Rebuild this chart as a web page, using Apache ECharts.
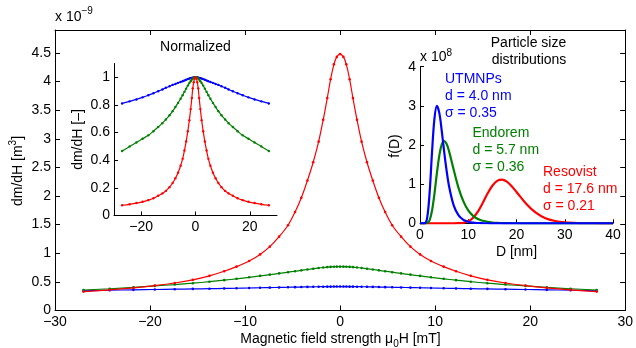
<!DOCTYPE html>
<html>
<head>
<meta charset="utf-8">
<script src="https://cdn.jsdelivr.net/npm/echarts@6/dist/echarts.min.js"></script>
<style>
  html, body { margin: 0; padding: 0; background: #fff; }
  #chart { width: 636px; height: 348px; }
</style>
</head>
<body>
<div id="chart"></div>
<script>
// field values [mT] at the measured points
const fieldH = [-27, -24.25, -21.75, -19.5, -17.4, -15.5, -13.75, -12.2, -10.9, -9.57, -8.42, -7.4, -6.42, -5.48, -4.74, -4.08, -3.44, -2.83, -2.26, -1.78, -1.35, -1, -0.65, -0.35, 0, 0.35, 0.65, 1, 1.35, 1.78, 2.26, 2.83, 3.44, 4.08, 4.74, 5.48, 6.42, 7.4, 8.42, 9.57, 10.9, 12.2, 13.75, 15.5, 17.4, 19.5, 21.75, 24.25, 27];

// dm/dH in units of 1e-9 m^3
const mainUtmnps = [0.343, 0.354, 0.361, 0.367, 0.372, 0.377, 0.381, 0.385, 0.389, 0.393, 0.397, 0.400, 0.403, 0.406, 0.408, 0.410, 0.412, 0.414, 0.415, 0.416, 0.417, 0.417, 0.418, 0.418, 0.418, 0.418, 0.418, 0.417, 0.417, 0.416, 0.415, 0.414, 0.412, 0.410, 0.408, 0.406, 0.403, 0.400, 0.397, 0.393, 0.389, 0.385, 0.381, 0.377, 0.372, 0.367, 0.361, 0.354, 0.343];
const mainEndorem = [0.358, 0.38, 0.404, 0.43, 0.453, 0.477, 0.503, 0.53, 0.554, 0.58, 0.604, 0.626, 0.648, 0.669, 0.686, 0.701, 0.716, 0.730, 0.742, 0.751, 0.758, 0.762, 0.765, 0.766, 0.766, 0.766, 0.765, 0.762, 0.758, 0.751, 0.742, 0.730, 0.716, 0.701, 0.686, 0.669, 0.648, 0.626, 0.604, 0.58, 0.554, 0.53, 0.503, 0.477, 0.453, 0.43, 0.404, 0.38, 0.358];
const mainResovist = [0.33, 0.36, 0.395, 0.435, 0.48, 0.535, 0.605, 0.685, 0.766, 0.865, 0.98, 1.115, 1.29, 1.49, 1.72, 1.97, 2.27, 2.59, 2.95, 3.33, 3.71, 4.04, 4.30, 4.43, 4.48, 4.43, 4.30, 4.04, 3.71, 3.33, 2.95, 2.59, 2.27, 1.97, 1.72, 1.49, 1.29, 1.115, 0.98, 0.865, 0.766, 0.685, 0.605, 0.535, 0.48, 0.435, 0.395, 0.36, 0.33];

// normalized dm/dH (inset)
const normUtmnps = [0.811, 0.826, 0.84, 0.855, 0.87, 0.885, 0.899, 0.912, 0.924, 0.935, 0.945, 0.952, 0.96, 0.966, 0.972, 0.977, 0.982, 0.987, 0.991, 0.994, 0.996, 0.998, 0.999, 1, 1, 1, 0.999, 0.998, 0.996, 0.994, 0.991, 0.987, 0.982, 0.977, 0.972, 0.966, 0.96, 0.952, 0.945, 0.935, 0.924, 0.912, 0.899, 0.885, 0.87, 0.855, 0.84, 0.826, 0.811];
const normEndorem = [0.467, 0.5, 0.528, 0.555, 0.58, 0.61, 0.64, 0.668, 0.695, 0.725, 0.755, 0.785, 0.815, 0.845, 0.87, 0.895, 0.918, 0.94, 0.958, 0.972, 0.984, 0.992, 0.998, 1, 1, 1, 0.998, 0.992, 0.984, 0.972, 0.958, 0.94, 0.918, 0.895, 0.87, 0.845, 0.815, 0.785, 0.755, 0.725, 0.695, 0.668, 0.64, 0.61, 0.58, 0.555, 0.528, 0.5, 0.467];
const normResovist = [0.074, 0.081, 0.09, 0.099, 0.111, 0.125, 0.143, 0.16, 0.178, 0.205, 0.235, 0.27, 0.31, 0.36, 0.41, 0.47, 0.535, 0.61, 0.69, 0.77, 0.85, 0.92, 0.965, 0.99, 1, 0.99, 0.965, 0.92, 0.85, 0.77, 0.69, 0.61, 0.535, 0.47, 0.41, 0.36, 0.31, 0.27, 0.235, 0.205, 0.178, 0.16, 0.143, 0.125, 0.111, 0.099, 0.09, 0.081, 0.074];

// particle size distributions, f(D) in units of 1e8
const sizeD = [0, 0.5, 1, 1.5, 2, 2.5, 3, 3.5, 4, 4.5, 5, 5.5, 6, 7, 8, 9, 10, 11, 12, 13, 14, 15, 16, 17, 18, 19, 20, 22, 24, 26, 28, 30, 33, 36, 40];
const distUtmnps = [0, 0, 0.004, 0.15, 0.79, 1.83, 2.68, 3.0, 2.82, 2.37, 1.84, 1.36, 0.96, 0.45, 0.2, 0.086, 0.037, 0.016, 0.007, 0.003, 0.001, 0, 0, 0, 0, 0, 0, 0, 0, 0, 0, 0, 0, 0, 0];
const distEndorem = [0, 0, 0, 0.008, 0.08, 0.33, 0.76, 1.28, 1.73, 2.01, 2.1, 2.03, 1.85, 1.36, 0.9, 0.56, 0.33, 0.19, 0.11, 0.065, 0.036, 0.02, 0.011, 0.007, 0.004, 0.002, 0.001, 0, 0, 0, 0, 0, 0, 0, 0];
const distResovist = [0, 0, 0, 0, 0, 0, 0, 0, 0, 0, 0, 0, 0, 0, 0.002, 0.012, 0.05, 0.143, 0.30, 0.52, 0.76, 0.96, 1.085, 1.116, 1.063, 0.948, 0.80, 0.50, 0.27, 0.13, 0.06, 0.025, 0.007, 0.001, 0];

const mainYTicks = [0, 0.5, 1, 1.5, 2, 2.5, 3, 3.5, 4, 4.5];
const normXTicks = [-20, 0, 20];
const normYTicks = [0, 0.2, 0.4, 0.6, 0.8, 1];

const BLUE = "#0000ff", GREEN = "#008000", RED = "#ff0000";
const FONT = '"Liberation Sans", Arial, sans-serif';

const minus = (v) => (v < 0 ? "\u2212" + -v : String(v));

function axis(gridIndex, extra = {}, { labels = true, tickLen = 5 } = {}) {
  return {
    type: "value",
    gridIndex,
    axisLine: { show: true, onZero: false, lineStyle: { color: "#000", width: 1 } },
    axisTick: { show: true, inside: true, length: tickLen, lineStyle: { color: "#000" } },
    axisLabel: { show: labels, color: "#000", fontSize: 14, fontFamily: FONT, margin: 5, formatter: minus },
    splitLine: { show: false },
    ...extra,
  };
}

function pairs(xs, ys) {
  return xs.map((x, i) => [x, ys[i]]);
}

function curve(name, color, xs, ys, xi, yi, opts = {}) {
  return {
    name,
    type: "line",
    xAxisIndex: xi,
    yAxisIndex: yi,
    data: pairs(xs, ys),
    smooth: 0.35,
    symbol: "circle",
    symbolSize: 2.6,
    showSymbol: true,
    itemStyle: { color },
    lineStyle: { color, width: 1.2 },
    animation: false,
    silent: true,
    ...opts,
  };
}

function text(x, y, str, style = {}, extra = {}) {
  return {
    type: "text",
    x, y,
    silent: true,
    style: { text: str, fill: "#000", fontSize: 14, fontFamily: FONT, align: "left", verticalAlign: "middle", ...style },
    ...extra,
  };
}

const supRich = { sup: { fontSize: 10, fontFamily: FONT, verticalAlign: "top", lineHeight: 9 } };

const option = {
  animation: false,
  grid: [
    { left: 55, top: 30, width: 571, height: 280.5 },
    { left: 114, top: 63.5, width: 163, height: 152 },
    { left: 420, top: 66.7, width: 193, height: 156.6 },
  ],
  xAxis: [
    axis(0, { min: -30, max: 30, interval: 10 }),
    axis(0, { min: -30, max: 30, interval: 10, position: "top" }, { labels: false }),
    axis(1, { min: -30, max: 30, axisLabel: { color: "#000", fontSize: 14, fontFamily: FONT, margin: 5, formatter: minus, customValues: normXTicks }, axisTick: { show: true, inside: true, length: 4, lineStyle: { color: "#000" }, customValues: normXTicks } }),
    axis(2, { min: 0, max: 40, interval: 10 }, { tickLen: 4 }),
  ],
  yAxis: [
    axis(0, { min: 0, max: 4.9, axisLabel: { color: "#000", fontSize: 14, fontFamily: FONT, margin: 4, customValues: mainYTicks }, axisTick: { show: true, inside: true, length: 5, lineStyle: { color: "#000" }, customValues: mainYTicks } }),
    axis(0, { min: 0, max: 4.9, position: "right", axisLabel: { show: false }, axisTick: { show: true, inside: true, length: 5, lineStyle: { color: "#000" }, customValues: mainYTicks } }),
    axis(1, { min: 0, max: 1.1, axisLabel: { color: "#000", fontSize: 14, fontFamily: FONT, margin: 4, customValues: normYTicks }, axisTick: { show: true, inside: true, length: 4, lineStyle: { color: "#000" }, customValues: normYTicks } }),
    axis(2, { min: 0, max: 4, interval: 1, axisLabel: { color: "#000", fontSize: 14, fontFamily: FONT, margin: 4 } }, { tickLen: 4 }),
  ],
  series: [
    curve("UTMNPs", BLUE, fieldH, mainUtmnps, 0, 0),
    curve("Endorem", GREEN, fieldH, mainEndorem, 0, 0),
    curve("Resovist", RED, fieldH, mainResovist, 0, 0),
    curve("UTMNPs norm", BLUE, fieldH, normUtmnps, 2, 2, { symbolSize: 2.4 }),
    curve("Endorem norm", GREEN, fieldH, normEndorem, 2, 2, { symbolSize: 2.4 }),
    curve("Resovist norm", RED, fieldH, normResovist, 2, 2, { symbolSize: 2.4 }),
    // size distributions: red underneath, blue on top
    curve("Resovist f(D)", RED, sizeD, distResovist, 3, 3, { showSymbol: false, symbol: "none", lineStyle: { color: RED, width: 2.2 } }),
    curve("Endorem f(D)", GREEN, sizeD, distEndorem, 3, 3, { showSymbol: false, symbol: "none", lineStyle: { color: GREEN, width: 2.2 } }),
    curve("UTMNPs f(D)", BLUE, sizeD, distUtmnps, 3, 3, { showSymbol: false, symbol: "none", lineStyle: { color: BLUE, width: 2.2 } }),
  ],
  graphic: [
    // main axes
    text(55, 17, "x 10{sup|\u22129}", { lineHeight: 22, rich: supRich }),
    text(18, 171, "dm/dH [m{sup|3}]", { align: "center", lineHeight: 20, rich: supRich }, { rotation: Math.PI / 2 }),
    text(340.5, 339, "Magnetic field strength \u03bc{sub|0}H [mT]", {
      align: "center", lineHeight: 20,
      rich: { sub: { fontSize: 10, fontFamily: FONT, verticalAlign: "bottom", lineHeight: 11 } },
    }),
    // normalized inset
    text(195.5, 47, "Normalized", { align: "center" }),
    text(78, 139.5, "dm/dH [\u2013]", { align: "center" }, { rotation: Math.PI / 2 }),
    // size distribution inset
    text(528.5, 43, "Particle size", { align: "center" }),
    text(529, 60, "distributions", { align: "center" }),
    text(420, 57, "x 10{sup|8}", { lineHeight: 18, rich: supRich }),
    text(395, 146, "f(D)", { align: "center" }, { rotation: Math.PI / 2 }),
    text(516.5, 252, "D [nm]", { align: "center" }),
    text(445, 79.5, "UTMNPs", { fill: BLUE }),
    text(445, 96.5, "d = 4.0 nm", { fill: BLUE }),
    text(445, 113.5, "\u03c3 = 0.35", { fill: BLUE }),
    text(472.5, 133.5, "Endorem", { fill: GREEN }),
    text(472.5, 150.5, "d = 5.7 nm", { fill: GREEN }),
    text(472.5, 167.5, "\u03c3 = 0.36", { fill: GREEN }),
    text(543, 172.5, "Resovist", { fill: RED }),
    text(543, 189.5, "d = 17.6 nm", { fill: RED }),
    text(543, 206.5, "\u03c3 = 0.21", { fill: RED }),
  ],
};

const chart = echarts.init(document.getElementById("chart"), null, { renderer: "canvas" });
chart.setOption(option);
window.addEventListener("resize", () => chart.resize());
</script>
</body>
</html>
